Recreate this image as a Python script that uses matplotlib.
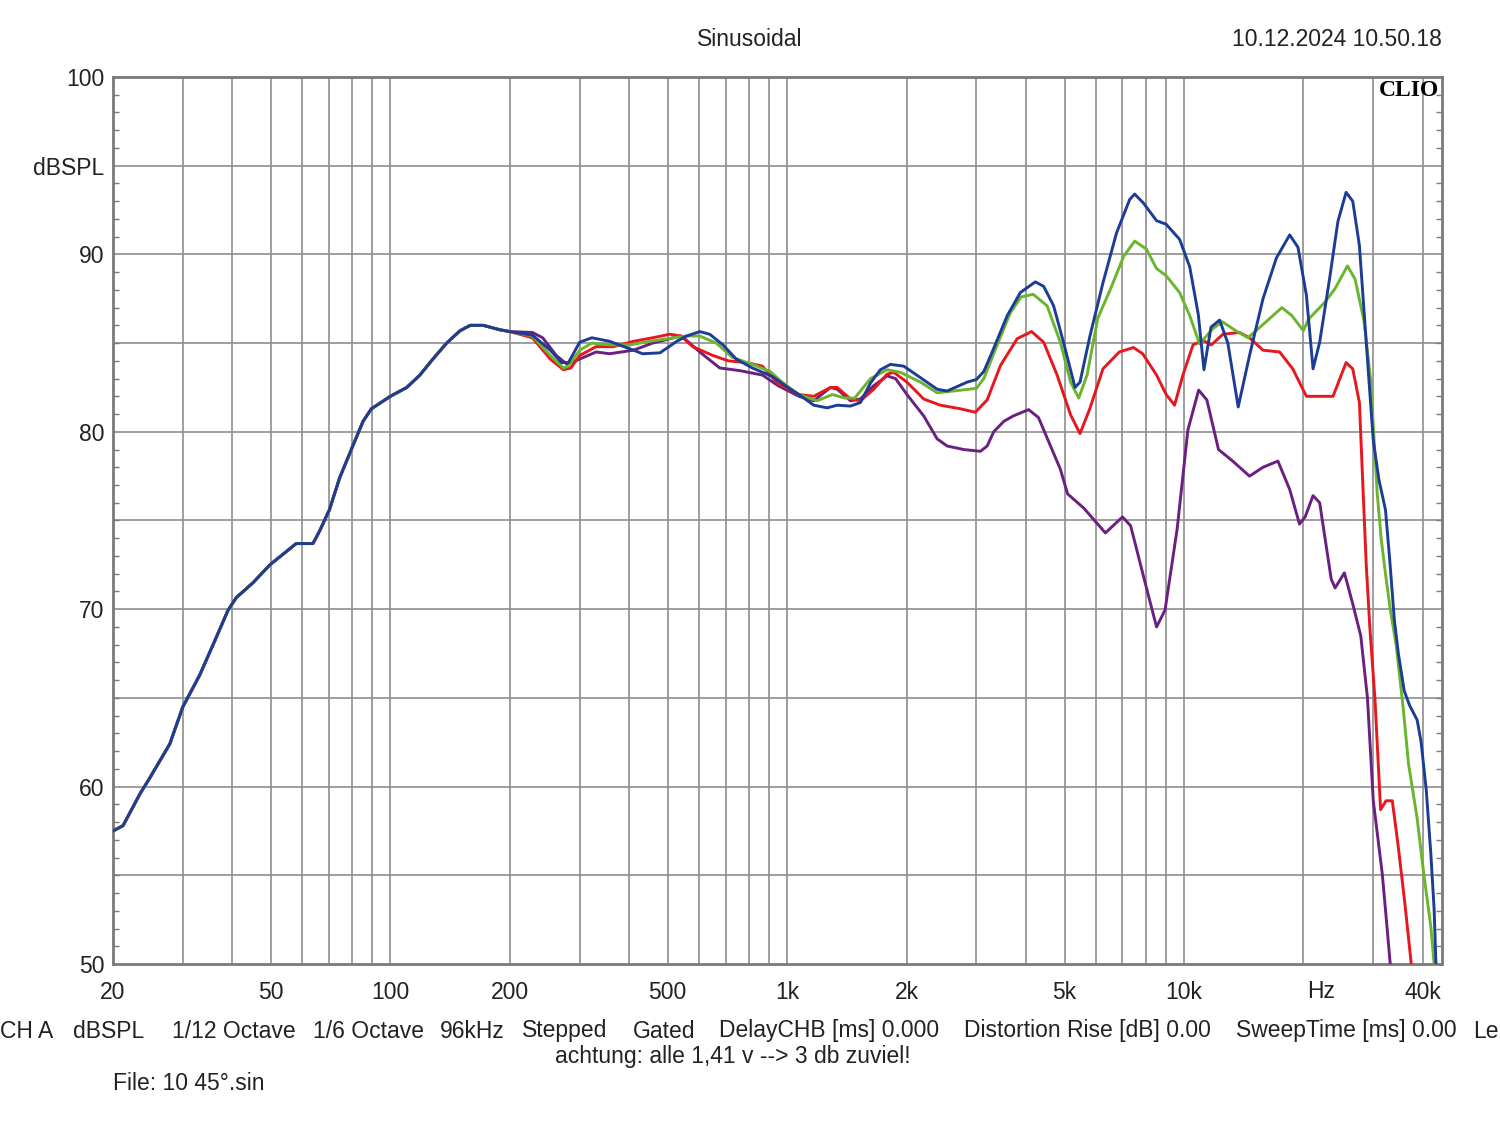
import numpy as np
import matplotlib.pyplot as plt
from matplotlib.ticker import NullLocator

plt.rcParams['font.family'] = ['Liberation Sans', 'DejaVu Sans']

# shared low-frequency part (all curves identical below 200 Hz)
low_freq = [20, 21.2, 23.4, 24.7, 27.8, 30, 33.1, 36.4, 39, 40.9, 45.1, 49.7, 57.9, 63.8,
            66.3, 70.2, 74.5, 80.4, 85.4, 89.6, 100, 110, 118.7, 128, 138.6, 149.9, 159,
            171.5, 188.9, 200]
low_db = [57.5, 57.8, 59.6, 60.45, 62.4, 64.5, 66.3, 68.4, 69.95, 70.65, 71.5, 72.5, 73.7, 73.7,
          74.4, 75.6, 77.4, 79.2, 80.6, 81.3, 82.0, 82.5, 83.2, 84.1, 85.0, 85.7, 86.0,
          86.0, 85.75, 85.65]

blue_freq = [228, 253, 270, 281, 300, 322, 357, 410, 432, 478, 527, 558, 602, 638, 689, 744, 817,
             921, 1018, 1071, 1167, 1261, 1337, 1444, 1530, 1622, 1718, 1821, 1967, 2168, 2388,
             2530, 2842, 3000, 3130, 3315, 3586, 3870, 4221, 4430, 4694, 4970, 5315, 5470, 5795,
             6250, 6760, 7300, 7515, 7900, 8530, 9020, 9750, 10340, 10870, 11230, 11700, 12300,
             12900, 13700, 14630, 15820, 17100, 18470, 19380, 20350, 21150, 21980, 23270, 24430,
             25620, 26630, 27680, 28800, 30000, 31000, 32200, 33000, 33900, 34700, 35900, 37000,
             38700, 39600, 40800, 41900, 42700, 43300]
blue_db = [85.45, 84.6, 83.9, 83.9, 85.05, 85.3, 85.1, 84.6, 84.4, 84.45, 85.1, 85.4, 85.65, 85.5,
           84.9, 84.1, 83.6, 83.1, 82.4, 82.1, 81.5, 81.35, 81.5, 81.45, 81.65, 82.75, 83.5, 83.8,
           83.7, 83.05, 82.4, 82.3, 82.8, 82.95, 83.4, 84.7, 86.55, 87.85, 88.45, 88.2, 87.1,
           85.05, 82.5, 82.8, 85.4, 88.4, 91.2, 93.1, 93.4, 92.9, 91.9, 91.7, 90.85, 89.3, 86.6,
           83.5, 85.9, 86.3, 85.0, 81.4, 84.3, 87.5, 89.8, 91.1, 90.4, 87.7, 83.55, 85.05, 88.6,
           91.85, 93.5, 93.0, 90.5, 85.05, 79.5, 77.3, 75.6, 72.8, 69.4, 67.5, 65.4, 64.6, 63.75,
           62.5, 59.8, 56.2, 53.1, 49.0]

green_freq = [228, 253, 273, 281, 300, 322, 357, 402, 450, 517, 558, 602, 663, 727, 817, 906, 971,
              1071, 1190, 1300, 1400, 1480, 1622, 1786, 1930, 2168, 2388, 2626, 3000, 3130, 3405,
              3650, 3885, 4170, 4520, 4880, 5180, 5430, 5700, 6065, 6530, 7050, 7515, 8040, 8530,
              9020, 9750, 10340, 10950, 11800, 12500, 13500, 14500, 15730, 17650, 18700, 20000,
              20600, 22650, 24000, 25830, 27000, 28450, 29580, 30150, 30700, 31400, 32200, 33100,
              34300, 35700, 36800, 38700, 40200, 41900, 42700, 43100]
green_db = [85.4, 84.3, 83.6, 83.7, 84.6, 85.0, 84.9, 84.9, 85.1, 85.3, 85.4, 85.4, 85.0, 84.2,
            83.8, 83.4, 82.8, 82.1, 81.75, 82.1, 81.9, 81.9, 83.0, 83.5, 83.35, 82.8, 82.2, 82.3,
            82.45, 83.0, 85.05, 86.7, 87.6, 87.75, 87.1, 85.05, 82.8, 81.9, 83.2, 86.4, 88.05,
            89.9, 90.75, 90.3, 89.2, 88.8, 87.85, 86.55, 84.95, 85.8, 86.2, 85.7, 85.3, 86.0, 87.0,
            86.55, 85.7, 86.35, 87.3, 88.05, 89.35, 88.6, 86.2, 82.8, 79.5, 76.5, 74.0, 72.0,
            70.0, 67.9, 64.4, 61.3, 58.2, 55.1, 52.1, 50.0, 49.0]

red_freq = [228, 253, 273, 285, 300, 330, 365, 410, 458, 506, 540, 578, 650, 711, 789, 866, 949,
            1071, 1167, 1286, 1337, 1444, 1530, 1653, 1786, 1857, 2004, 2208, 2432, 2730, 2980,
            3192, 3450, 3800, 4130, 4430, 4790, 5180, 5470, 5790, 6250, 6870, 7460, 7870, 8530,
            9020, 9470, 9940, 10540, 11170, 11720, 12540, 13800, 14630, 15820, 17420, 18800, 20350,
            21540, 23750, 25620, 26630, 27680, 28300, 28800, 29400, 30300, 31300, 32300, 33500,
            34600, 36000, 37400, 37800]
red_db = [85.3, 84.1, 83.5, 83.6, 84.3, 84.8, 84.8, 85.1, 85.3, 85.5, 85.4, 84.8, 84.3, 84.0, 83.9,
          83.7, 82.7, 82.1, 82.0, 82.5, 82.5, 81.85, 81.75, 82.4, 83.25, 83.35, 82.8, 81.85, 81.5,
          81.3, 81.1, 81.8, 83.75, 85.25, 85.65, 85.05, 83.2, 80.95, 79.9, 81.3, 83.55, 84.5,
          84.75, 84.4, 83.2, 82.1, 81.5, 83.2, 84.9, 85.15, 84.9, 85.5, 85.6, 85.3, 84.6, 84.5,
          83.55, 82.0, 82.0, 82.0, 83.9, 83.55, 81.65, 76.5, 72.5, 69.0, 64.9, 58.7, 59.2, 59.2,
          56.8, 53.5, 50.0, 49.0]

purple_freq = [228, 242, 262, 279, 300, 330, 357, 410, 458, 517, 542, 602, 676, 758, 866, 949,
               1071, 1167, 1286, 1337, 1444, 1530, 1653, 1786, 1876, 2004, 2208, 2388, 2530, 2786,
               3070, 3192, 3315, 3520, 3720, 4060, 4300, 4610, 4880, 5090, 5590, 6340, 7000, 7340,
               7960, 8530, 8960, 9610, 10230, 10890, 11420, 12220, 13190, 14630, 15820, 17250,
               18470, 19550, 20200, 21150, 21980, 23500, 24040, 25370, 26630, 27900, 29000, 30000,
               31600, 32500, 33100, 33400]
purple_db = [85.6, 85.3, 84.3, 83.8, 84.1, 84.5, 84.4, 84.6, 85.0, 85.3, 85.4, 84.5, 83.6, 83.45,
             83.2, 82.6, 82.0, 81.75, 82.5, 82.4, 81.75, 81.85, 82.6, 83.15, 83.0, 82.1, 80.9,
             79.6, 79.2, 79.0, 78.9, 79.2, 80.0, 80.6, 80.9, 81.25, 80.8, 79.2, 77.9, 76.5, 75.7,
             74.3, 75.2, 74.7, 71.6, 69.0, 69.95, 74.5, 80.1, 82.35, 81.8, 79.0, 78.4, 77.5, 78.0,
             78.35, 76.75, 74.8, 75.2, 76.4, 76.0, 71.7, 71.2, 72.05, 70.3, 68.5, 65.0, 59.2, 55.1,
             52.05, 50.0, 49.0]

x_ticks = [20, 50, 100, 200, 500, 1000, 2000, 5000, 10000, 40000]
x_labels = ['20', '50', '100', '200', '500', '1k', '2k', '5k', '10k', '40k']
y_ticks = [50, 60, 70, 80, 90, 95, 100]
y_labels = ['50', '60', '70', '80', '90', 'dBSPL', '100']

W, H = 1500, 1121
fig = plt.figure(figsize=(W / 100, H / 100), dpi=100)
ax = fig.add_axes([113 / W, 1 - 964 / H, 1329 / W, 887 / H])
ax.set_xscale('log')
ax.set_xlim(20, 44700)
ax.set_ylim(50, 100)

grid_col = '#8e8e8e'
grid_freqs = [m * 10 ** e for e in range(1, 5) for m in range(1, 10)]
for g in grid_freqs:
    if 20 < g < 44700:
        ax.axvline(g, color=grid_col, lw=1.2, zorder=1)
for h in range(55, 100, 5):
    ax.axhline(h, color=grid_col, lw=1.2, zorder=1)

curves = [
    (purple_freq, purple_db, '#6a2080'),
    (red_freq, red_db, '#e8171e'),
    (green_freq, green_db, '#6bb52e'),
    (blue_freq, blue_db, '#1d3c96'),
]
for fr, db, col in curves:
    ax.plot(low_freq + fr, low_db + db, color=col, lw=2.1, zorder=3,
            solid_joinstyle='round', solid_capstyle='round')

for s in ax.spines.values():
    s.set_color('#7a7a7a')
    s.set_linewidth(2)

ax.set_xticks(x_ticks)
ax.set_xticklabels(x_labels)
ax.xaxis.set_minor_locator(NullLocator())
ax.set_yticks(y_ticks)
ax.set_yticklabels(y_labels)
ax.set_yticks(range(50, 101), minor=True)
ax.tick_params(axis='x', which='major', length=0, pad=12, labelsize=16.5, labelcolor='#222222')
ax.tick_params(axis='y', which='major', length=0, pad=6, labelsize=16.5, labelcolor='#222222')
ax.tick_params(axis='y', which='minor', direction='in', length=4, width=1,
               color='#7a7a7a', left=True, right=True)

def ftext(x, y, s, **kw):
    fig.text(x / W, 1 - y / H, s, fontsize=16.5, color='#222222', va='center', **kw)

ftext(750, 39, 'Sinusoidal', ha='center')
ftext(1442, 39, '10.12.2024 10.50.18', ha='right')
ftext(1321, 992, 'Hz', ha='center')
fig.text(1439 / W, 1 - 90 / H, 'CLIO', fontsize=17, fontweight='bold',
         family='Liberation Serif', ha='right', va='center', color='black')

bottom_items = [(0, 'CH A'), (73, 'dBSPL'), (172, '1/12 Octave'), (313, '1/6 Octave'),
                (440, '96kHz'), (522, 'Stepped'), (633, 'Gated'),
                (719, 'DelayCHB [ms] 0.000'), (964, 'Distortion Rise [dB] 0.00'),
                (1236, 'SweepTime [ms] 0.00')]
for bx, s in bottom_items:
    ftext(bx, 1031, s, ha='left')
ftext(1499, 1031, 'Le', ha='right')
ftext(733, 1057, 'achtung: alle 1,41 v --> 3 db zuviel!', ha='center')
ftext(113, 1083, 'File: 10 45°.sin', ha='left')

fig.savefig('out.png', dpi=100)
